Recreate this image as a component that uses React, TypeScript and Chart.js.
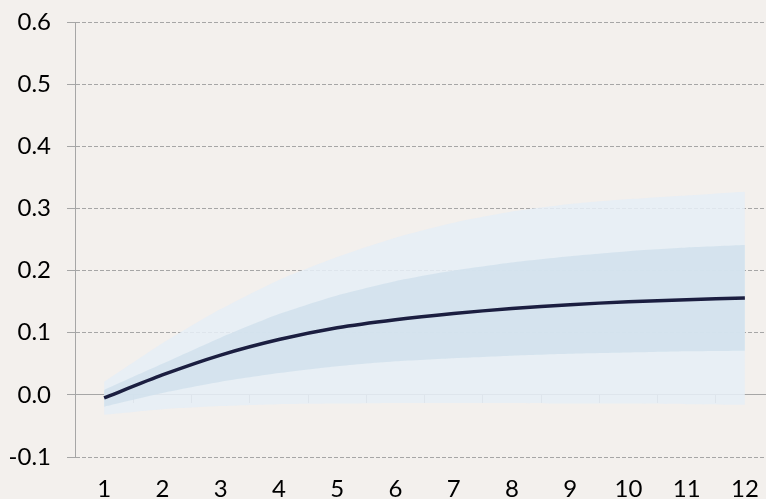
import React, { useEffect, useRef } from 'react';
import { Chart, registerables } from 'chart.js';

Chart.register(...registerables);

const periods = ['1', '2', '3', '4', '5', '6', '7', '8', '9', '10', '11', '12'];
const response = [-0.005, 0.032, 0.064, 0.089, 0.108, 0.121, 0.131, 0.139, 0.145, 0.150, 0.153, 0.156];
const innerUpper = [0.008, 0.050, 0.092, 0.130, 0.160, 0.183, 0.200, 0.213, 0.223, 0.231, 0.237, 0.241];
const innerLower = [-0.019, 0.003, 0.021, 0.035, 0.046, 0.054, 0.059, 0.063, 0.066, 0.068, 0.070, 0.071];
const outerUpper = [0.021, 0.083, 0.138, 0.185, 0.222, 0.253, 0.277, 0.295, 0.307, 0.315, 0.321, 0.327];
const outerLower = [-0.032, -0.023, -0.018, -0.015, -0.014, -0.013, -0.013, -0.013, -0.014, -0.014, -0.015, -0.016];
const yMin = -0.1;
const yMax = 0.6;
const yStep = 0.1;

const BG = '#F3F0ED';
const AXIS = '#A6A6A6';
const FONT = { family: 'Lato, "Open Sans", sans-serif', size: 24 };

export default function App() {
  const ref = useRef<HTMLCanvasElement>(null);

  useEffect(() => {
    if (!ref.current) return;
    const bgPlugin = {
      id: 'bgFill',
      beforeDraw(chart: any) {
        const { ctx, width, height } = chart;
        ctx.save();
        ctx.fillStyle = BG;
        ctx.fillRect(0, 0, width, height);
        ctx.restore();
      },
    };
    const chart = new Chart(ref.current, {
      type: 'line',
      data: {
        labels: periods,
        datasets: [
          {
            label: 'response',
            data: response,
            borderColor: '#1B1E40',
            borderWidth: 3.5,
            pointRadius: 0,
            tension: 0.2,
            fill: false,
          },
          {
            label: 'inner upper',
            data: innerUpper,
            borderWidth: 0,
            pointRadius: 0,
            tension: 0.2,
            backgroundColor: 'rgba(210,225,237,0.88)',
            fill: '+1',
          },
          {
            label: 'inner lower',
            data: innerLower,
            borderWidth: 0,
            pointRadius: 0,
            tension: 0.2,
            fill: false,
          },
          {
            label: 'outer upper',
            data: outerUpper,
            borderWidth: 0,
            pointRadius: 0,
            tension: 0.2,
            backgroundColor: 'rgba(230,238,246,0.88)',
            fill: '+1',
          },
          {
            label: 'outer lower',
            data: outerLower,
            borderWidth: 0,
            pointRadius: 0,
            tension: 0.2,
            fill: false,
          },
        ],
      },
      options: {
        responsive: false,
        devicePixelRatio: 1,
        animation: false,
        layout: { padding: { top: 22, left: 0, right: 0, bottom: 0 } },
        plugins: {
          legend: { display: false },
          tooltip: { enabled: false },
        },
        scales: {
          x: {
            type: 'category',
            position: 'bottom',
            offset: true,
            grid: { display: false },
            border: { display: false },
            ticks: { font: FONT, color: '#000', padding: 10, maxRotation: 0, autoSkip: false },
            afterFit: (s: any) => {
              s.height = 42;
            },
          },
          x2: {
            type: 'category',
            axis: 'x',
            labels: periods,
            position: { y: 0 },
            offset: true,
            grid: {
              offset: true,
              drawOnChartArea: false,
              drawTicks: true,
              tickLength: 8,
              color: AXIS,
            },
            border: { display: true, color: AXIS },
            ticks: { display: false },
          },
          y: {
            min: yMin,
            max: yMax,
            ticks: {
              stepSize: yStep,
              font: FONT,
              color: '#000',
              padding: 16,
              callback: (v: any) => {
                const n = Math.abs(Number(v)) < 1e-9 ? 0 : Number(v);
                return n.toFixed(1);
              },
            },
            grid: { color: AXIS, tickLength: 8, drawTicks: true },
            border: {
              display: true,
              color: AXIS,
              dash: (ctx: any) => (ctx.tick && Math.abs(ctx.tick.value) > 1e-9 ? [4, 2] : []),
            },
            afterFit: (s: any) => {
              s.width = 75;
              s.paddingTop = 0;
              s.paddingBottom = 0;
            },
          },
        },
      } as any,
      plugins: [bgPlugin],
    });
    return () => chart.destroy();
  }, []);

  return (
    <div
      style={{
        position: 'fixed',
        left: 0,
        top: 0,
        width: 766,
        height: 499,
        overflow: 'hidden',
        background: BG,
      }}
    >
      <canvas ref={ref} width={774} height={499} style={{ display: 'block', width: 774, height: 499 }} />
    </div>
  );
}
